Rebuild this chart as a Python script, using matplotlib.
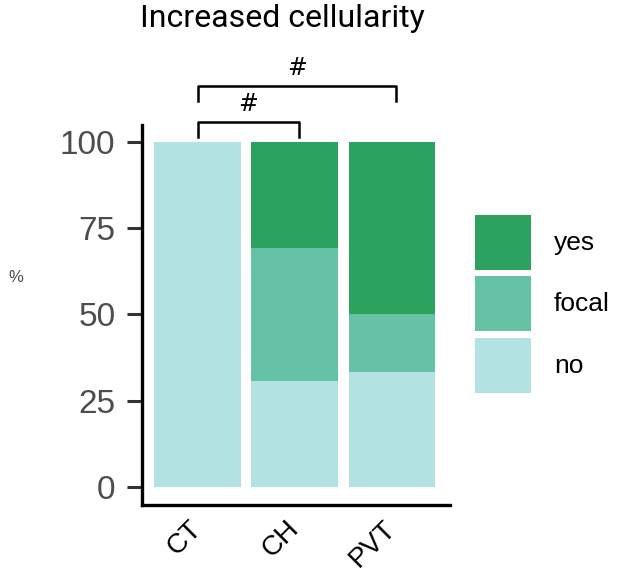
import numpy as np
import matplotlib
matplotlib.use('Agg')
import matplotlib.pyplot as plt
from matplotlib.patches import Patch

# groups and percentages of each score (stacked bottom to top: no, focal, yes)
groups = ['CT', 'CH', 'PVT']
pct_no = [100.0, 30.77, 33.33]
pct_focal = [0.0, 38.46, 16.67]
pct_yes = [0.0, 30.77, 50.0]

levels = ['yes', 'focal', 'no']
colors = {'yes': '#2ca25f', 'focal': '#66c2a4', 'no': '#b2e2e2'}

# significance brackets: (left group, right group, label)
brackets = [(0, 1, '#'), (0, 2, '#')]

fig = plt.figure(figsize=(6.19, 5.72), dpi=100)
ax = fig.add_axes([0.229, 0.117, 0.498, 0.664])

x = np.arange(len(groups))
width = 0.89
no_arr = np.array(pct_no)
focal_arr = np.array(pct_focal)
yes_arr = np.array(pct_yes)
ax.bar(x, no_arr, width, color=colors['no'])
ax.bar(x, focal_arr, width, bottom=no_arr, color=colors['focal'])
ax.bar(x, yes_arr, width, bottom=no_arr + focal_arr, color=colors['yes'])

ax.set_xlim(-0.575, 2.6)
ax.set_ylim(-5.3, 104.8)
ax.set_yticks([0, 25, 50, 75, 100])
ax.set_xticks(x)
ax.set_xticklabels(groups, rotation=45, ha='right', va='center',
                   rotation_mode='anchor', fontsize=20,
                   family='Liberation Sans', color='black')
for lab in ax.get_yticklabels():
    lab.set_family('Liberation Sans')
ax.tick_params(axis='y', labelsize=24, labelcolor='#4d4d4d', length=11,
               width=2.2, color='#333333', pad=8)
ax.tick_params(axis='x', length=0, pad=14)
for s in ['top', 'right']:
    ax.spines[s].set_visible(False)
for s in ['left', 'bottom']:
    ax.spines[s].set_linewidth(2.4)
    ax.spines[s].set_color('black')

fig.text(0.025, 0.515, '%', fontsize=12, color='#4d4d4d',
         family='Liberation Sans', ha='center', va='center')

# brackets above the bars
levels_y = [101.3, 111.7]
for (a, b, lab), y0 in zip(brackets, levels_y):
    h = 4.4
    xa, xb = a, b + 0.04
    ax.plot([xa, xa, xb, xb], [y0, y0 + h, y0 + h, y0], color='black',
            lw=1.8, clip_on=False)
    ax.text((xa + xb) / 2, y0 + h + 1.8, lab, ha='center', va='bottom',
            fontsize=17, family='DejaVu Sans', clip_on=False)

fig.suptitle('Increased cellularity', x=0.456, y=0.993, va='top',
             fontsize=23, family='Roboto')

handles = [Patch(facecolor=colors[l], edgecolor='white', linewidth=0) for l in levels]
leg = fig.legend(handles, levels, loc='upper left', bbox_to_anchor=(0.768, 0.625),
                 frameon=False, fontsize=19, handlelength=2.12, handleheight=2.83,
                 labelspacing=0.25, handletextpad=0.85, borderpad=0, borderaxespad=0)
for t in leg.get_texts():
    t.set_family('Liberation Sans')

fig.savefig('out.png', dpi=100)
